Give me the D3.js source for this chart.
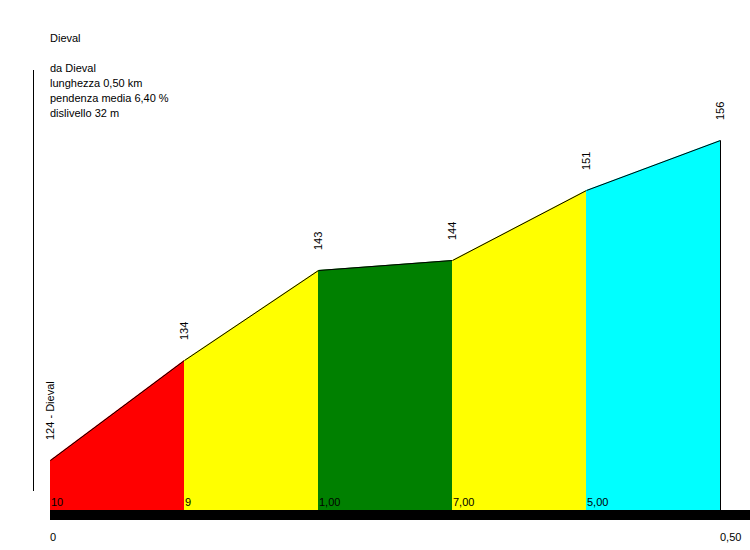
<!DOCTYPE html>
<html><head><meta charset="utf-8">
<script src="https://cdn.jsdelivr.net/npm/d3@7"></script>
<style>body{margin:0;background:#fff}svg{display:block}text{font-family:"Liberation Sans",Arial,sans-serif;font-size:11px;fill:#000}</style>
</head><body>
<script>
const distances = [0, 0.1, 0.2, 0.3, 0.4, 0.5];
const elevations = [124, 134, 143, 144, 151, 156];
const pointLabels = ["124 - Dieval", "134", "143", "144", "151", "156"];
const segmentLabels = ["10", "9", "1,00", "7,00", "5,00"];
const segmentColors = ["#ff0000", "#ffff00", "#008000", "#ffff00", "#00ffff"];
const axisTicks = [0, 0.5];
const axisTickLabels = ["0", "0,50"];
const infoLines = ["Dieval", "", "da Dieval", "lunghezza 0,50 km", "pendenza media 6,40 %", "dislivello 32 m"];

const W = 750, H = 550;
const svg = d3.select("body").append("svg").attr("width", W).attr("height", H);
const x = d3.scaleLinear().domain([0, 0.5]).range([50, 720]);
const y = d3.scaleLinear().domain([119, 156]).range([510, 140]);
const base = 119;

for (let i = 0; i < segmentLabels.length; i++) {
  const pts = [[distances[i], base], [distances[i], elevations[i]], [distances[i+1], elevations[i+1]], [distances[i+1], base]];
  svg.append("path")
    .attr("d", d3.line().x(d => x(d[0])).y(d => y(d[1]))(pts) + "Z")
    .attr("fill", segmentColors[i]).attr("stroke", "none");
  svg.append("path")
    .attr("d", d3.line().x(d => x(d[0]) + 0.5).y(d => y(d[1]) + 0.5)(pts.slice(1)))
    .attr("fill", "none").attr("stroke", "#000").attr("stroke-width", 1);
  svg.append("text")
    .attr("x", x(distances[i]) + 1).attr("y", y(base) - 4)
    .text(segmentLabels[i]);
}

svg.append("rect").attr("x", x(0)).attr("y", y(base)).attr("width", W - x(0)).attr("height", 10).attr("fill", "#000");

elevations.forEach((e, i) => {
  const px = x(distances[i]), py = y(e) - 20;
  svg.append("text")
    .attr("transform", `translate(${px + 4},${py}) rotate(-90)`)
    .text(pointLabels[i]);
});

axisTicks.forEach((t, i) => {
  svg.append("text").attr("x", x(t)).attr("y", 541).text(axisTickLabels[i]);
});

svg.append("line").attr("x1", 33.5).attr("x2", 33.5).attr("y1", 70).attr("y2", 491).attr("stroke", "#000");

infoLines.forEach((l, i) => {
  svg.append("text").attr("x", 50).attr("y", 42 + i * 15).text(l);
});
</script>
</body></html>
